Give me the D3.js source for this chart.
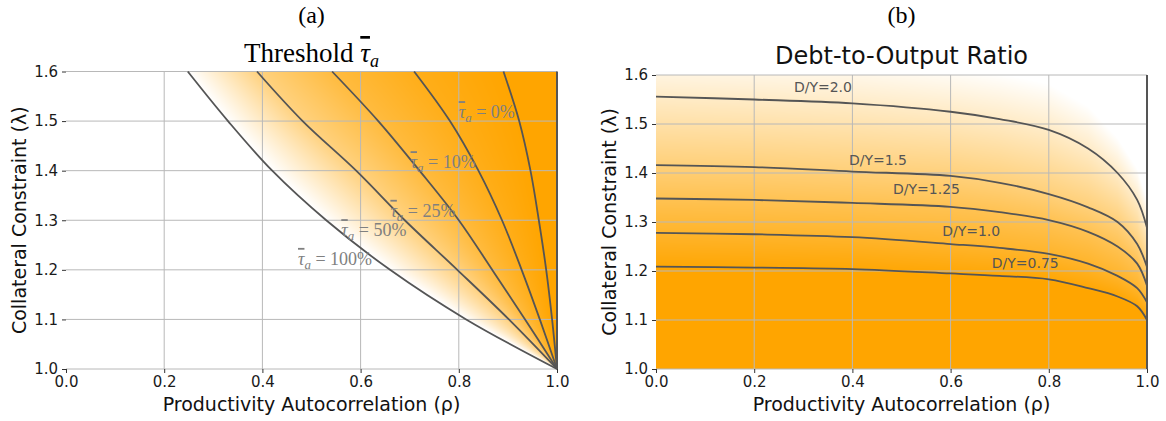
<!DOCTYPE html>
<html>
<head>
<meta charset="utf-8">
<script src="https://cdn.jsdelivr.net/npm/d3@7"></script>
<style>
    body { margin: 0; background: #fff; }
    svg text { font-family: "DejaVu Sans", sans-serif; }
    .tick line { stroke: #333; }
    .serif { font-family: "Liberation Serif", serif; }
</style>
</head>
<body>
<svg id="chart" width="1166" height="421"></svg>
<script>
const rhoTicks = [0, 0.2, 0.4, 0.6, 0.8, 1.0];
const lambdaTicks = [1.0, 1.1, 1.2, 1.3, 1.4, 1.5, 1.6];

// (a) rho at which each threshold contour crosses lambda
const tauLambda = [1.6, 1.5, 1.4, 1.3, 1.2, 1.1, 1.0];
const tau100 = [0.248, 0.330, 0.420, 0.530, 0.660, 0.815, 1.0];
const tau50  = [0.389, 0.482, 0.591, 0.690, 0.797, 0.902, 1.0];
const tau25  = [0.542, 0.636, 0.720, 0.800, 0.868, 0.935, 1.0];
const tau10  = [0.709, 0.782, 0.840, 0.888, 0.928, 0.965, 1.0];
const tau0   = [0.891, 0.923, 0.946, 0.963, 0.978, 0.990, 1.0];
const tauLevels = [100, 50, 25, 10, 0];

// (b) lambda of each debt-to-output contour along rho
const dyRho = [0, 0.2, 0.4, 0.6, 0.7, 0.8, 0.88, 0.94, 0.98, 1.0];
const dy075 = [1.209, 1.207, 1.204, 1.195, 1.190, 1.183, 1.165, 1.148, 1.128, 1.100];
const dy100 = [1.278, 1.275, 1.269, 1.255, 1.247, 1.235, 1.215, 1.190, 1.165, 1.136];
const dy125 = [1.348, 1.345, 1.339, 1.331, 1.320, 1.304, 1.280, 1.250, 1.215, 1.170];
const dy150 = [1.416, 1.412, 1.403, 1.394, 1.380, 1.357, 1.330, 1.300, 1.255, 1.208];
const dy200 = [1.556, 1.550, 1.542, 1.525, 1.510, 1.488, 1.450, 1.400, 1.345, 1.288];
const dyLevels = [0.75, 1.0, 1.25, 1.5, 2.0];
const dyLabels = ["D/Y=0.75", "D/Y=1.0", "D/Y=1.25", "D/Y=1.5", "D/Y=2.0"];

const svg = d3.select("#chart");
const shade = t => [255, Math.round(255 - 90 * t), Math.round(255 - 255 * t)];

function makePanel(left, top, width, height) {
    let p = {};
    p.width = width;
    p.height = height;
    p.g = svg.append("g").attr("transform", `translate(${left}, ${top})`);
    p.x = d3.scaleLinear().domain([0, 1]).range([0, width]);
    p.y = d3.scaleLinear().domain([1.0, 1.6]).range([height, 0]);
    p.bg = p.g.append("g");
    return p;
}

function paintField(p, colorAt) {
    const canvas = document.createElement("canvas");
    canvas.width = Math.round(p.width);
    canvas.height = Math.round(p.height);
    const ctx = canvas.getContext("2d");
    const img = ctx.createImageData(canvas.width, canvas.height);
    for (let j = 0; j < canvas.height; j++) {
        const lam = p.y.invert(j + 0.5);
        for (let i = 0; i < canvas.width; i++) {
            const c = colorAt(p.x.invert(i + 0.5), lam);
            const k = (j * canvas.width + i) * 4;
            img.data[k] = c[0]; img.data[k + 1] = c[1]; img.data[k + 2] = c[2]; img.data[k + 3] = 255;
        }
    }
    ctx.putImageData(img, 0, 0);
    p.bg.append("image")
        .attr("href", canvas.toDataURL())
        .attr("width", p.width)
        .attr("height", p.height)
        .attr("preserveAspectRatio", "none");
}

function drawFrame(p) {
    let g = p.g;
    g.append("g").selectAll("line").data(rhoTicks.filter(d => d > 0 && d < 1)).join("line")
        .attr("x1", d => p.x(d)).attr("x2", d => p.x(d))
        .attr("y1", 0).attr("y2", p.height)
        .attr("stroke", "#b8b8b8").attr("stroke-width", 1);
    g.append("g").selectAll("line").data(lambdaTicks).join("line")
        .attr("x1", 0).attr("x2", p.width)
        .attr("y1", d => p.y(d)).attr("y2", d => p.y(d))
        .attr("stroke", "#b8b8b8").attr("stroke-width", 1);

    const fixTicks = a => {
        a.select(".domain").remove();
        a.selectAll("text").style("font-size", "15px").style("font-family", "DejaVu Sans").attr("fill", "#1a1a1a");
    };
    g.append("g")
        .attr("transform", `translate(0, ${p.height})`)
        .call(d3.axisBottom(p.x).tickValues(rhoTicks).tickFormat(d3.format(".1f")).tickSize(4).tickPadding(3))
        .call(fixTicks);
    g.append("g")
        .call(d3.axisLeft(p.y).tickValues(lambdaTicks).tickFormat(d3.format(".1f")).tickSize(4).tickPadding(4))
        .call(fixTicks);

    g.append("text")
        .attr("x", p.width / 2).attr("y", p.height + 42)
        .attr("text-anchor", "middle").attr("font-size", 19).attr("fill", "#111")
        .text("Productivity Autocorrelation (ρ)");
    g.append("text")
        .attr("transform", `translate(-40, ${p.height / 2}) rotate(-90)`)
        .attr("text-anchor", "middle").attr("font-size", 19).attr("fill", "#111")
        .text("Collateral Constraint (λ)");
}

// tau with a bar over it, subscript a
function tauBar(t, subSize, drop) {
    t.append("tspan").attr("font-style", "italic")
        .style("text-decoration", "overline").text("τ");
    t.append("tspan").attr("font-style", "italic").attr("font-size", subSize).attr("dy", drop).text("a");
}

// ---- panel (a)
const pa = makePanel(66, 71.5, 491, 297.5);
const tauRhoSeries = [tau100, tau50, tau25, tau10, tau0];
const tauAt = tauRhoSeries.map(s => d3.scaleLinear().domain(tauLambda).range(s));

paintField(pa, (rho, lam) => {
    const pos = tauAt.map(f => f(lam));
    if (rho < pos[0]) return [255, 255, 255];
    const tau = d3.scaleLinear().domain(pos).range(tauLevels).clamp(true)(rho);
    return shade(1 - tau / 100);
});
drawFrame(pa);

const tauLine = d3.line()
    .x(d => pa.x(d[0]))
    .y(d => pa.y(d[1]))
    .curve(d3.curveCatmullRom.alpha(0.5));
pa.g.append("g").selectAll("path")
    .data(tauRhoSeries.map(s => s.map((r, i) => [r, tauLambda[i]])))
    .join("path")
    .attr("d", tauLine)
    .attr("fill", "none").attr("stroke", "#555").attr("stroke-width", 1.8);

const tauLabelAt = [[0.548, 1.220], [0.627, 1.278], [0.727, 1.317], [0.768, 1.415], [0.857, 1.516]];
tauLevels.forEach((lv, i) => {
    const t = pa.g.append("text")
        .attr("class", "serif")
        .attr("x", pa.x(tauLabelAt[i][0])).attr("y", pa.y(tauLabelAt[i][1]) + 5)
        .attr("text-anchor", "middle").attr("font-size", 18).attr("fill", "#808080");
    tauBar(t, 13, 4);
    t.append("tspan").attr("dy", -4).text(" = " + lv + "%");
});

pa.g.append("line")
    .attr("x1", pa.x(1)).attr("x2", pa.x(1)).attr("y1", 0).attr("y2", pa.height)
    .attr("stroke", "#555").attr("stroke-width", 2);

// ---- panel (b)
const pb = makePanel(656, 75, 491, 294);
const dySeries = [dy075, dy100, dy125, dy150, dy200];
const dyAt = dySeries.map(s => d3.scaleLinear().domain(dyRho).range(s));

paintField(pb, (rho, lam) => {
    const pos = dyAt.map(f => f(rho));
    const dv = d3.scaleLinear().domain(pos).range(dyLevels)(lam);
    const t = Math.max(0, Math.min(1, (2.36 - dv) / (2.36 - 0.72)));
    return shade(t);
});
drawFrame(pb);

const dyLine = d3.line()
    .x(d => pb.x(d[0]))
    .y(d => pb.y(d[1]))
    .curve(d3.curveCatmullRom.alpha(0.5));
pb.g.append("g").selectAll("path")
    .data(dySeries.map(s => s.map((l, i) => [dyRho[i], l])))
    .join("path")
    .attr("d", dyLine)
    .attr("fill", "none").attr("stroke", "#555").attr("stroke-width", 1.8);

const dyLabelAt = [[0.752, 1.216], [0.642, 1.282], [0.551, 1.367], [0.452, 1.4275], [0.340, 1.575]];
pb.g.append("g").selectAll("text").data(dyLabels).join("text")
    .attr("x", (d, i) => pb.x(dyLabelAt[i][0]))
    .attr("y", (d, i) => pb.y(dyLabelAt[i][1]) + 5)
    .attr("text-anchor", "middle").attr("font-size", 14).attr("fill", "#555")
    .text(d => d);

pb.g.append("line")
    .attr("x1", pb.x(1)).attr("x2", pb.x(1)).attr("y1", 0).attr("y2", pb.height)
    .attr("stroke", "#555").attr("stroke-width", 2);

// ---- titles
svg.append("text").attr("class", "serif")
    .attr("x", 311.5).attr("y", 23).attr("text-anchor", "middle").attr("font-size", 24)
    .text("(a)");
svg.append("text").attr("class", "serif")
    .attr("x", 901.5).attr("y", 23).attr("text-anchor", "middle").attr("font-size", 24)
    .text("(b)");

const ta = svg.append("text").attr("class", "serif")
    .attr("x", 311.5).attr("y", 62).attr("text-anchor", "middle").attr("font-size", 27);
ta.append("tspan").text("Threshold ");
tauBar(ta, 18, 5);

svg.append("text")
    .attr("x", 901.5).attr("y", 64).attr("text-anchor", "middle").attr("font-size", 24).attr("fill", "#111")
    .text("Debt-to-Output Ratio");
</script>
</body>
</html>
